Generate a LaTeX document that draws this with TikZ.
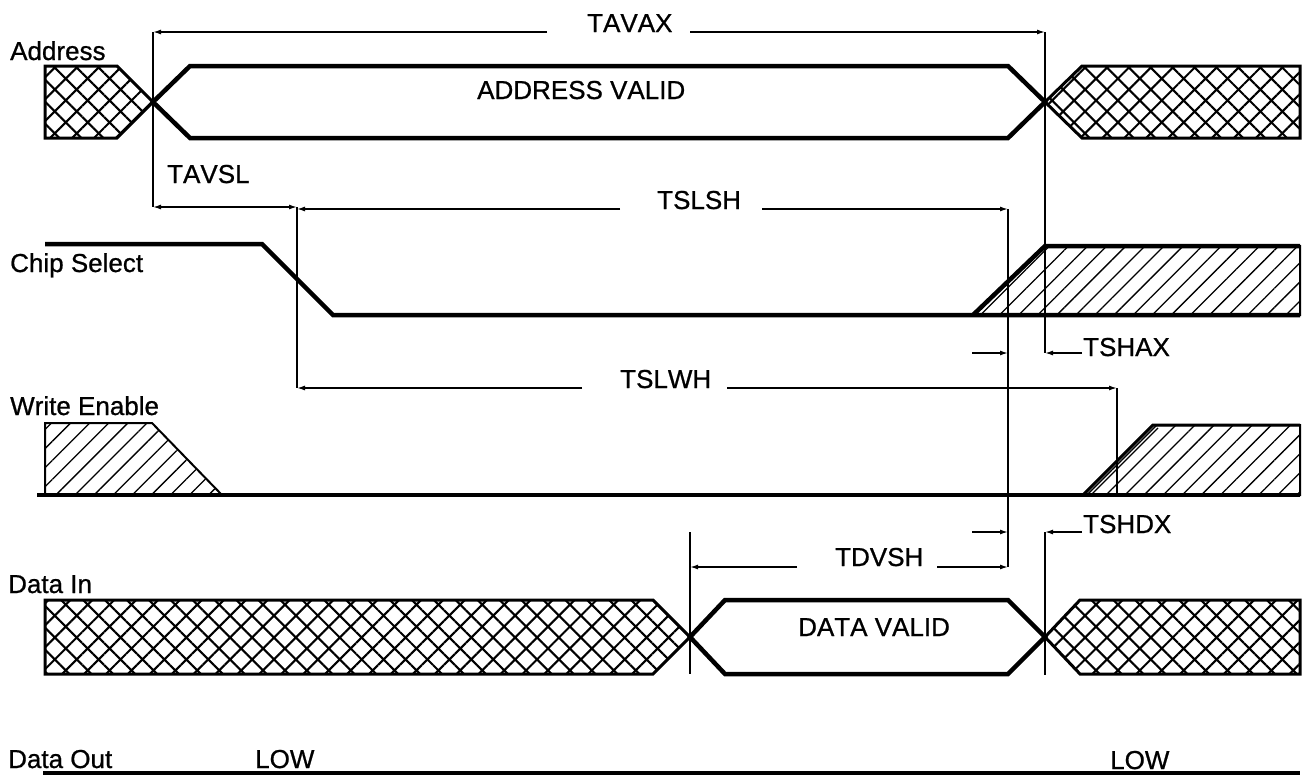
\documentclass[tikz,border=0pt]{standalone}
\usepackage{fontspec}
\setmainfont{Liberation Sans}[Kerning=Off,BoldFont=Liberation Sans,BoldFeatures={FakeBold=0.8}]
\usetikzlibrary{patterns.meta,arrows.meta}
\begin{document}
\begin{tikzpicture}[x=1pt,y=-1pt,
  sig/.style={line width=4.5pt,line join=miter},
  xbox/.style={pattern={Hatch[angle=45,distance=15.5pt,line width=2.1pt]},draw,line width=3pt,line join=miter},
  hbox/.style={pattern={Lines[angle=45,distance=13.5pt,line width=1.3pt]},draw,line width=2pt,line join=miter},
  dim/.style={line width=1.4pt},
  tip/.style={-{Latex[length=8pt,width=5pt]}},
  lbl/.style={font=\fontsize{26}{30}\selectfont\bfseries,inner sep=0pt,anchor=base west},
]
\useasboundingbox[fill=white] (0,0) rectangle (1306,780);

% ---------- Address ----------
\node[lbl] (laddr) at (10,60) {Address};
\path[xbox] (45,66) -- (117,66) -- (153,102) -- (117,138) -- (45,138) -- cycle;
\draw[sig] (153,102) -- (190,66) -- (1008,66) -- (1045,102) -- (1008,138) -- (190,138) -- cycle;
\path[xbox] (1045,102) -- (1082,66) -- (1300,66) -- (1300,138) -- (1082,138) -- cycle;
\node[lbl] (avalid) at (477,99) {ADDRESS VALID};

% ---------- Chip Select ----------
\node[lbl] (lcs) at (10,272) {Chip Select};
\path[hbox] (973,315) -- (1045,246) -- (1300,246) -- (1300,315) -- cycle;
\draw[sig] (45,244) -- (262,244) -- (333,315) -- (1300,315);
\draw[sig] (973,315) -- (1045,246) -- (1300,246);

% ---------- Write Enable ----------
\node[lbl] (lwe) at (10,415) {Write Enable};
\path[hbox] (45,423) -- (152,423) -- (222,495) -- (45,495) -- cycle;
\path[hbox] (1083,495) -- (1153,425) -- (1300,425) -- (1300,495) -- cycle;
\draw[line width=3pt] (1083,495) -- (1153,425) -- (1300,425);
\draw[line width=1.2pt] (1091,495) -- (1158,428);
\draw[sig] (37,495) -- (1300,495);

% ---------- Data In ----------
\node[lbl] (ldin) at (8,593) {Data In};
\path[xbox] (45,600) -- (653,600) -- (690,637) -- (653,674) -- (45,674) -- cycle;
\draw[sig] (690,637) -- (725,600) -- (1008,600) -- (1045,637) -- (1008,674) -- (725,674) -- cycle;
\path[xbox] (1045,637) -- (1080,600) -- (1300,600) -- (1300,674) -- (1080,674) -- cycle;
\node[lbl] (dvalid) at (798,636) {DATA VALID};

% ---------- Data Out ----------
\node[lbl] (ldout) at (8,768) {Data Out};
\draw[sig] (43,773) -- (1300,773);
\node[lbl] (low1) at (255,768) {LOW};
\node[lbl] (low2) at (1110,769) {LOW};

% ---------- timing coordinates ----------
\coordinate (a1) at (153,32);   \coordinate (a2) at (153,207);
\coordinate (b1) at (297,207);  \coordinate (b2) at (297,388);
\coordinate (d1) at (1008,209); \coordinate (d2) at (1008,567);
\coordinate (e1) at (1045,32);  \coordinate (e2) at (1045,353);
\coordinate (e3) at (1045,532); \coordinate (e4) at (1045,675);
\coordinate (f1) at (1117,388); \coordinate (f2) at (1117,495);
\coordinate (c1) at (690,532);  \coordinate (c2) at (690,674);

% vertical reference lines
\draw[dim] (a1) -- (a2);
\draw[dim] (b1) -- (b2);
\draw[dim] (d1) -- (d2);
\draw[dim] (e1) -- (e2);
\draw[dim] (e3) -- (e4);
\draw[dim] (f1) -- (f2);
\draw[dim] (c1) -- (c2);

% TAVAX
\node[lbl] (tavax) at (587,32) {TAVAX};
\draw[dim,tip] (547,32) -- (a1);
\draw[dim,tip] (690,32) -- (e1);

% TAVSL
\node[lbl] (tavsl) at (167,183) {TAVSL};
\draw[dim,{Latex[length=8pt,width=5pt]}-{Latex[length=8pt,width=5pt]}] (a2) -- (b1);

% TSLSH
\node[lbl] (tslsh) at (657,209) {TSLSH};
\draw[dim,tip] (620,209) -- (b1 |- d1);
\draw[dim,tip] (762,209) -- (d1);
\draw[dim,tip] (972,353) -- (d1 |- e2);

% TSHAX
\node[lbl] (tshax) at (1083,356) {TSHAX};
\draw[dim,tip] (1082,353) -- (e2);

% TSLWH
\node[lbl] (tslwh) at (620,388) {TSLWH};
\draw[dim,tip] (582,388) -- (b2);
\draw[dim,tip] (727,388) -- (f1);

% TSHDX
\node[lbl] (tshdx) at (1083,533) {TSHDX};
\draw[dim,tip] (1082,532) -- (e3);
\draw[dim,tip] (972,532) -- (d1 |- e3);

% TDVSH
\node[lbl] (tdvsh) at (835,566) {TDVSH};
\draw[dim,tip] (797,567) -- (c1 |- d2);
\draw[dim,tip] (937,567) -- (d2);
\end{tikzpicture}
\end{document}
